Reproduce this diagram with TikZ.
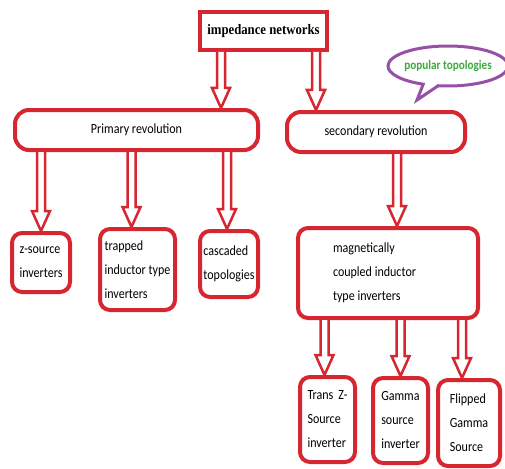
\documentclass[tikz,border=0pt]{standalone}
\usepackage{fontspec}
\setmainfont[FakeStretch=0.86]{Carlito}
\newfontfamily\titlefont[FakeStretch=0.88]{Liberation Serif}
\usetikzlibrary{calc,shapes.callouts}

\definecolor{boxred}{RGB}{214,38,48}
\definecolor{bubblepurple}{RGB}{150,80,165}
\definecolor{textgreen}{RGB}{60,170,60}

\tikzset{
  netbox/.style={draw=boxred, line width=4pt, rounded corners=10pt, fill=white,
    align=left, inner sep=2pt, outer sep=0pt, font=\fontsize{14}{24}\selectfont},
  revbox/.style={netbox, rounded corners=14pt},
  hollow/.style={draw=boxred, line width=2.5pt, fill=white, line join=miter}
}
% hollow block arrow: top edge from #1, tip at #2
\newcommand{\hollowarrow}[2]{%
  \filldraw[hollow] let \p1=(#1), \p2=(#2) in
    (\x2-4pt,\y1-2pt) -- (\x2-4pt,\y2+22pt) -- (\x2-9pt,\y2+22pt) -- (\x2,\y2+2pt)
    -- (\x2+9pt,\y2+22pt) -- (\x2+4pt,\y2+22pt) -- (\x2+4pt,\y1-2pt);}

\begin{document}
\begin{tikzpicture}[x=1pt,y=-1pt]
  \useasboundingbox (0,0) rectangle (505,468);

  \node [netbox, rounded corners=0pt, minimum width=127, minimum height=38,
    font=\titlefont\bfseries\fontsize{14.5}{16}\selectfont] (imp) at (263.5,31) {impedance networks};

  \node [revbox, minimum width=243, minimum height=40] (prim) at (136.5,130) {Primary revolution};
  \node [revbox, minimum width=178, minimum height=40] (sec) at (376,132) {secondary revolution};

  \node [ellipse callout, draw=bubblepurple, line width=3pt, fill=white,
    minimum width=120, minimum height=40, inner xsep=-10pt, inner ysep=2pt,
    callout absolute pointer={(417,100)}, text=textgreen,
    font=\bfseries\fontsize{13}{14}\selectfont] (pop) at (448,66) {popular topologies};

  \node [netbox, minimum width=58, minimum height=59] (zsrc) at (41,262.5) {z-source\\inverters};
  \node [netbox, minimum width=75, minimum height=81] (trap) at (137.5,269.5) {trapped\\inductor type\\inverters};
  \node [netbox, minimum width=58, minimum height=66] (casc) at (229,264) {cascaded\\topologies};

  \node [netbox, align=flush left, minimum width=180, minimum height=90, text width=110] (mag) at (388,273)
    {magnetically\\coupled inductor\\type inverters};

  \node [netbox, minimum width=55, minimum height=85] (trans) at (327.5,419.5) {Trans\, Z-\\Source\\inverter};
  \node [netbox, minimum width=55, minimum height=85] (gam) at (400.5,420.5) {Gamma\\source\\inverter};
  \node [netbox, minimum width=62, minimum height=86] (flip) at (469,423) {Flipped\\Gamma\\Source};

  \coordinate (ia) at ([xshift=21]imp.south west);
  \coordinate (ib) at ([xshift=-11]imp.south east);
  \hollowarrow{ia}{ia |- prim.north}
  \hollowarrow{ib}{ib |- sec.north}

  \hollowarrow{prim.south}{zsrc.north}
  \hollowarrow{prim.south}{[xshift=-6]trap.north}
  \hollowarrow{prim.south}{[xshift=-2]casc.north}
  \hollowarrow{sec.south}{[xshift=9]mag.north}

  \hollowarrow{mag.south}{[xshift=-3]trans.north}
  \hollowarrow{mag.south}{gam.north}
  \hollowarrow{mag.south}{[xshift=-7]flip.north}
\end{tikzpicture}
\end{document}
